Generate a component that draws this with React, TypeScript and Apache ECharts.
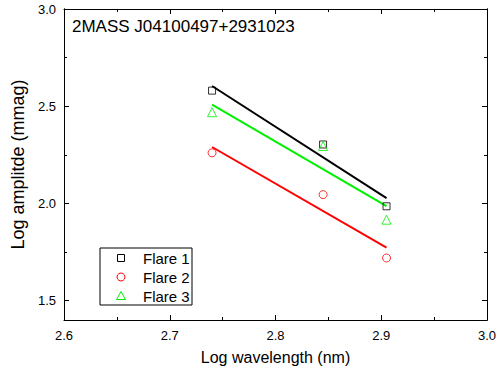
import React, { useEffect, useRef } from "react";
import * as echarts from "echarts";

const xValues = [2.74, 2.845, 2.905];
const flare1 = [2.58, 2.303, 1.985];
const flare2 = [2.26, 2.045, 1.719];
const flare3 = [2.469, 2.295, 1.916];
const fitX = [2.74, 2.905];
const fit1 = [2.604, 2.027];
const fit2 = [2.29, 1.772];
const fit3 = [2.508, 1.986];
const yMajorTicks = [1.5, 2.0, 2.5, 3.0];
const yMinorTicks = [1.75, 2.25, 2.75];
const seriesNames = ["Flare 1", "Flare 2", "Flare 3"];
const colors = ["#000000", "#ff0000", "#00f000"];
const FONT = "Liberation Sans, Arial, sans-serif";

const pts = (xs: number[], ys: number[]) => xs.map((x, i) => [x, ys[i]]);

export default function App() {
  const ref = useRef<HTMLDivElement>(null);
  useEffect(() => {
    if (!ref.current) return;
    const chart = echarts.init(ref.current, null, { renderer: "svg" });
    const axisLine = { show: true, onZero: false, lineStyle: { color: "#000", width: 1 } };
    const yBase = (position: string, ticks: number[], len: number, labels: boolean, name?: string) => ({
      type: "value",
      min: 1.4,
      max: 3.0,
      position,
      axisLine,
      splitLine: { show: false },
      axisTick: { show: true, inside: true, length: len, customValues: ticks, lineStyle: { color: "#000" } },
      axisLabel: labels
        ? { show: true, customValues: ticks, formatter: (v: number) => v.toFixed(1), fontSize: 13, color: "#000", fontFamily: FONT, margin: 8 }
        : { show: false },
      name: name || "",
      nameLocation: "middle",
      nameRotate: 90,
      nameGap: 34,
      nameTextStyle: { fontSize: 18, color: "#000", fontFamily: FONT },
    });
    const xBase = (position: string, labels: boolean, name?: string) => ({
      type: "value",
      min: 2.6,
      max: 3.0,
      interval: 0.1,
      position,
      axisLine,
      splitLine: { show: false },
      axisTick: { show: true, inside: true, length: 5, lineStyle: { color: "#000" } },
      minorTick: { show: true, splitNumber: 2, length: 3, lineStyle: { color: "#000" } },
      axisLabel: labels
        ? { show: true, formatter: (v: number) => v.toFixed(1), fontSize: 13, color: "#000", fontFamily: FONT, margin: 9 }
        : { show: false },
      name: name || "",
      nameLocation: "middle",
      nameGap: 29,
      nameTextStyle: { fontSize: 16, color: "#000", fontFamily: FONT },
    });
    const symbols = ["rect", "circle", "triangle"];
    const sizes = [7, 8, 9];
    const data = [flare1, flare2, flare3];
    const fits = [fit1, fit2, fit3];
    const series: any[] = [];
    fits.forEach((f, i) => {
      series.push({
        name: "fit" + (i + 1),
        type: "line",
        data: pts(fitX, f),
        showSymbol: false,
        lineStyle: { color: colors[i], width: 2 },
        z: 2,
        silent: true,
      });
    });
    data.forEach((d, i) => {
      series.push({
        name: seriesNames[i],
        type: "scatter",
        data: pts(xValues, d),
        symbol: symbols[i],
        symbolSize: sizes[i],
        itemStyle: { color: "rgba(0,0,0,0)", borderColor: colors[i], borderWidth: 1 },
        z: 3,
      });
    });

    const legendX = 100, legendY = 248, rowH = 19;
    const legendChildren: any[] = [
      { type: "rect", shape: { x: legendX, y: legendY, width: 92, height: 57 }, style: { fill: "#fff", stroke: "#000", lineWidth: 1 } },
    ];
    seriesNames.forEach((n, i) => {
      const cy = legendY + 10 + i * rowH;
      const cx = 121;
      if (i === 0) legendChildren.push({ type: "rect", shape: { x: cx - 3.5, y: cy - 3.5, width: 7, height: 7 }, style: { fill: "none", stroke: colors[0], lineWidth: 1 } });
      if (i === 1) legendChildren.push({ type: "circle", shape: { cx, cy, r: 4 }, style: { fill: "none", stroke: colors[1], lineWidth: 1 } });
      if (i === 2) legendChildren.push({ type: "polygon", shape: { points: [[cx, cy - 4.5], [cx + 4.5, cy + 3.5], [cx - 4.5, cy + 3.5]] }, style: { fill: "none", stroke: colors[2], lineWidth: 1 } });
      legendChildren.push({ type: "text", x: 143, y: cy, style: { text: n, fill: "#000", font: `15px ${FONT}`, textVerticalAlign: "middle" } });
    });

    chart.setOption({
      animation: false,
      backgroundColor: "#fff",
      title: {
        text: "2MASS J04100497+2931023",
        left: 72,
        top: 18,
        padding: 0,
        textStyle: { fontSize: 17, fontWeight: "normal", color: "#000", fontFamily: FONT },
      },
      grid: { left: 64, right: 13, top: 9, bottom: 51 },
      xAxis: [xBase("bottom", true, "Log wavelength (nm)"), xBase("top", false)],
      yAxis: [
        yBase("left", yMajorTicks, 5, true, "Log amplitde (mmag)"),
        yBase("left", yMinorTicks, 3, false),
        yBase("right", yMajorTicks, 5, false),
        yBase("right", yMinorTicks, 3, false),
      ],
      series,
      graphic: legendChildren,
    });
    return () => chart.dispose();
  }, []);
  return <div ref={ref} style={{ width: 500, height: 371, position: "absolute", left: 0, top: 0 }} />;
}
